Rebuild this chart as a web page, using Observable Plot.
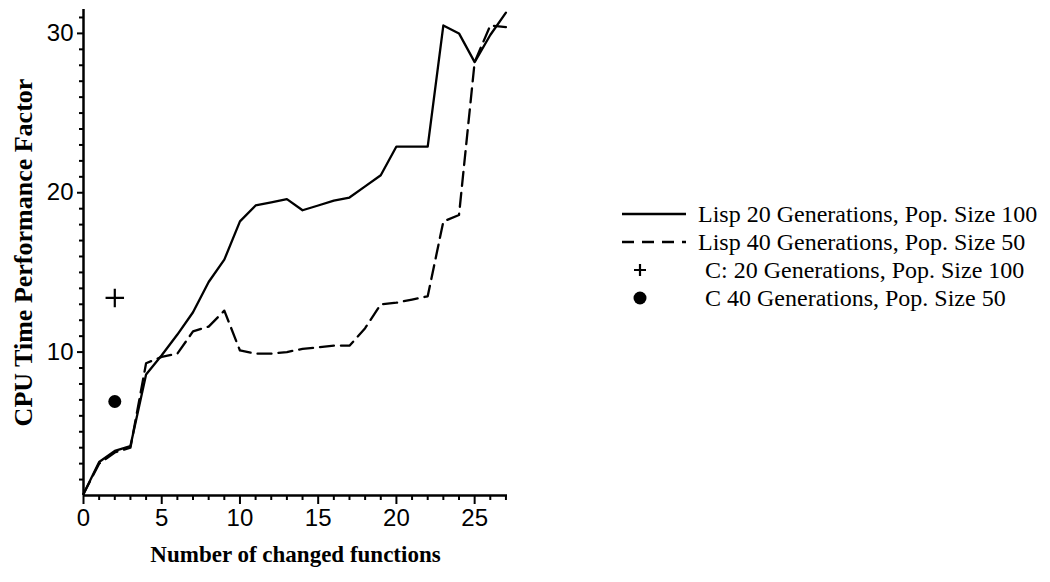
<!DOCTYPE html>
<html>
<head>
<meta charset="utf-8">
<script src="https://cdn.jsdelivr.net/npm/d3@7"></script>
<script src="https://cdn.jsdelivr.net/npm/@observablehq/plot@0.6"></script>
<style>
  html, body { margin: 0; padding: 0; background: #fff; }
  #wrap { position: relative; width: 1050px; height: 582px; }
  #legend { position: absolute; left: 622px; top: 200px; font-family: "Liberation Serif", serif; font-size: 24px; color: #000; }
  .row { display: flex; align-items: center; height: 28px; white-space: nowrap; }
  .row svg { flex: none; }
</style>
</head>
<body>
<div id="wrap"></div>
<script>
// ---- data ----
const changedFunctions = [0, 1, 2, 3, 4, 5, 6, 7, 8, 9, 10, 11, 12, 13, 14, 15, 16, 17, 18, 19, 20, 21, 22, 23, 24, 25, 26, 27];
const lisp20Gen100 = [1.1, 3.1, 3.8, 4.1, 8.6, 9.8, 11.1, 12.5, 14.4, 15.8, 18.2, 19.2, 19.4, 19.6, 18.9, 19.2, 19.5, 19.7, 20.4, 21.1, 22.9, 22.9, 22.9, 30.5, 30.0, 28.2, 29.9, 31.3];
const lisp40Gen50 = [1.1, 3.0, 3.7, 4.0, 9.3, 9.7, 9.9, 11.3, 11.6, 12.6, 10.1, 9.9, 9.9, 10.0, 10.2, 10.3, 10.4, 10.4, 11.5, 13.0, 13.1, 13.3, 13.5, 18.2, 18.6, 28.2, 30.5, 30.4];
const c20Gen100 = [{x: 2, y: 13.4}];
const c40Gen50 = [{x: 2, y: 6.9}];

const xMajorTicks = [0, 5, 10, 15, 20, 25];
const xMinorTicks = [1, 2, 3, 4, 6, 7, 8, 9, 11, 12, 13, 14, 16, 17, 18, 19, 21, 22, 23, 24, 26, 27];
const yMajorTicks = [10, 20, 30];
const yMinorTicks = [2, 3, 4, 5, 6, 7, 8, 9, 11, 12, 13, 14, 15, 16, 17, 18, 19, 21, 22, 23, 24, 25, 26, 27, 28, 29, 31];

const xTitle = "Number of changed functions";
const yTitle = "CPU Time Performance Factor";
const legendLabels = [
  "Lisp 20 Generations, Pop. Size 100",
  "Lisp 40 Generations, Pop. Size 50",
  "C: 20 Generations, Pop. Size 100",
  "C 40 Generations, Pop. Size 50"
];

const rows = changedFunctions.map((x, i) => ({x, a: lisp20Gen100[i], b: lisp40Gen50[i]}));

const chart = Plot.plot({
  width: 1050,
  height: 582,
  marginLeft: 83,
  marginRight: 543,
  marginTop: 9,
  marginBottom: 87,
  x: {domain: [0, 27.1]},
  y: {domain: [1, 31.5]},
  style: {fontFamily: "'Liberation Sans', sans-serif", fontSize: "24px", color: "#000", background: "#fff", overflow: "visible"},
  marks: [
    Plot.axisX({ticks: xMajorTicks, tickSize: 9, tickPadding: 4, tickFormat: d => String(d), label: null, strokeWidth: 2}),
    Plot.axisX({ticks: xMinorTicks, tickSize: 5, text: null, label: null, strokeWidth: 2}),
    Plot.axisY({ticks: yMajorTicks, tickSize: 6, tickPadding: 4, tickFormat: d => String(d), label: null, strokeWidth: 2}),
    Plot.axisY({ticks: yMinorTicks, tickSize: 4, text: null, label: null, strokeWidth: 2}),
    Plot.ruleY([1], {stroke: "#000", strokeWidth: 2.5}),
    Plot.ruleX([0], {stroke: "#000", strokeWidth: 2.5}),
    Plot.line(rows, {x: "x", y: "a", stroke: "#000", strokeWidth: 2.3}),
    Plot.line(rows, {x: "x", y: "b", stroke: "#000", strokeWidth: 2.3, strokeDasharray: "14,7"}),
    Plot.dot(c20Gen100, {x: "x", y: "y", symbol: "plus", r: 6, stroke: "#000", strokeWidth: 2.2}),
    Plot.dot(c40Gen50, {x: "x", y: "y", r: 6.5, fill: "#000", stroke: null}),
    Plot.text([xTitle], {text: d => d, frameAnchor: "bottom", dy: 66, fontFamily: "'Liberation Serif', serif", fontWeight: "bold", fontSize: 23}),
    Plot.text([yTitle], {text: d => d, frameAnchor: "left", textAnchor: "middle", dx: -60, rotate: -90, fontFamily: "'Liberation Serif', serif", fontWeight: "bold", fontSize: 26})
  ]
});

const wrap = document.getElementById("wrap");
wrap.appendChild(chart);

// legend (HTML, to the right of the plot)
const legend = document.createElement("div");
legend.id = "legend";
const ns = "http://www.w3.org/2000/svg";
function sample(kind) {
  const s = document.createElementNS(ns, "svg");
  s.setAttribute("width", kind === "solid" || kind === "dash" ? 70 : 76);
  s.setAttribute("height", 28);
  if (kind === "solid" || kind === "dash") {
    const l = document.createElementNS(ns, "line");
    l.setAttribute("x1", 0); l.setAttribute("x2", 64);
    l.setAttribute("y1", 14); l.setAttribute("y2", 14);
    l.setAttribute("stroke", "#000"); l.setAttribute("stroke-width", 2.3);
    if (kind === "dash") l.setAttribute("stroke-dasharray", "12,8");
    s.appendChild(l);
  } else if (kind === "plus") {
    const p = document.createElementNS(ns, "path");
    p.setAttribute("d", "M12,14h12M18,8v12");
    p.setAttribute("stroke", "#000"); p.setAttribute("stroke-width", 2.2);
    s.appendChild(p);
  } else {
    const c = document.createElementNS(ns, "circle");
    c.setAttribute("cx", 18); c.setAttribute("cy", 14); c.setAttribute("r", 6.5);
    c.setAttribute("fill", "#000");
    s.appendChild(c);
  }
  return s;
}
const kinds = ["solid", "dash", "plus", "dot"];
legendLabels.forEach((label, i) => {
  const row = document.createElement("div");
  row.className = "row";
  row.appendChild(sample(kinds[i]));
  const t = document.createElement("span");
  t.textContent = label;
  t.style.marginLeft = i >= 2 ? "7px" : "6px";
  row.appendChild(t);
  legend.appendChild(row);
});
wrap.appendChild(legend);
</script>
</body>
</html>
